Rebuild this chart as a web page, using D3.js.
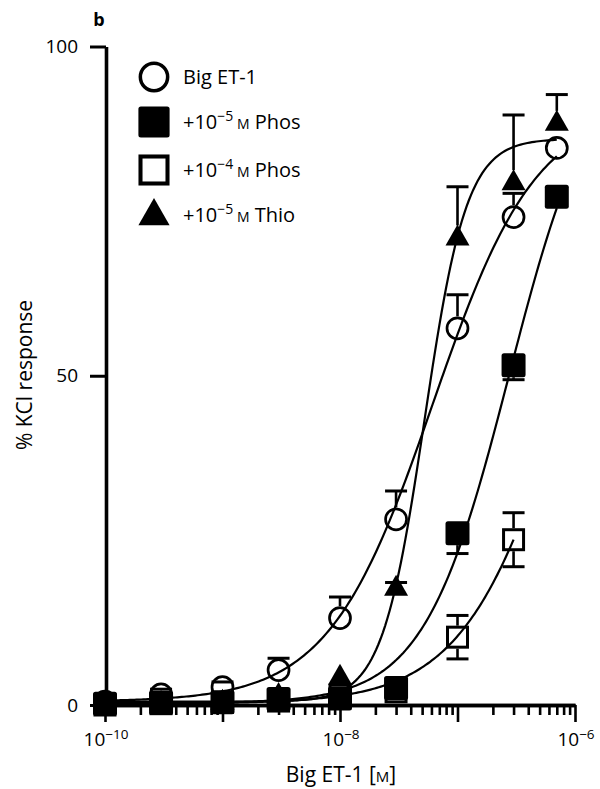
<!DOCTYPE html>
<html><head><meta charset="utf-8">
<script src="https://cdn.jsdelivr.net/npm/d3@7"></script>
<style>
body{margin:0;background:#fff}
svg{display:block}
text{font-family:"Open Sans","Liberation Sans",Arial,sans-serif;fill:#000}
</style>
</head><body>
<svg id="chart" width="600" height="789"></svg>
<script>
// ---- data ----
const doses = [1e-10, 3e-10, 1e-9, 3e-9, 1e-8, 3e-8, 1e-7, 3e-7, 7e-7];
const bigET1 = [0.5, 1.6, 2.7, 5.3, 13.2, 28.2, 57.2, 74.1, 84.6];
const bigET1ErrUp = [0.4, 0.8, 0.8, 1.8, 3.2, 4.3, 5.1, 3.6, 0];
const phos5 = [0.2, 0.3, 0.4, 0.9, 1.0, 2.6, 26.1, 51.6, 77.2];
const phos5ErrDown = [0, 0, 0, 0, 0, 0, 3.1, 2.2, 0];
const phos4 = [0.0, 0.2, 0.4, 0.6, 1.5, 2.0, 10.3, 25.1];
const phos4Err = [0.5, 0.8, 0.5, 0.6, 0, 0, 3.3, 4.1];
const thio = [0.3, 0.3, 0.5, 1.5, 4.3, 17.8, 71.0, 79.4, 88.4];
const thioErrUp = [0, 0, 0, 0, 0, 0.8, 7.7, 10.2, 4.3];

const legendLead = ["", "+10", "+10", "+10"];
const legendExp = ["", "\u22125", "\u22124", "\u22125"];
const legendTail = ["Big ET-1", "Phos", "Phos", "Thio"];

// sigmoid fit parameters (top, bottom, logEC50, Hill slope) per series
const fitTop = [91, 100, 100, 86];
const fitBottom = [0.5, 0.3, 0.2, 0.5];
const fitLogEC50 = [-7.21, -6.56, -6.03, -7.281];
const fitHill = [0.98, 1.2, 0.97, 2.41];

const xMajorTicks = [1e-10, 1e-9, 1e-8, 1e-7, 1e-6];
const xLabelTicks = [1e-10, 1e-8, 1e-6];
const xLabelExp = ["\u221210", "\u22128", "\u22126"];
const yTicks = [0, 50, 100];

// ---- chart ----
const svg = d3.select("#chart");
const x = d3.scaleLog().domain([1e-10, 1e-6]).range([105, 575]);
const y = d3.scaleLinear().domain([0, 100]).range([705, 46.5]);

const series = [
  {vals: bigET1, up: bigET1ErrUp, down: null, shape: "circle"},
  {vals: phos5, up: null, down: phos5ErrDown, shape: "fsquare"},
  {vals: phos4, up: phos4Err, down: phos4Err, shape: "osquare"},
  {vals: thio, up: thioErrUp, down: null, shape: "triangle"}
];

// fitted curves
const line = d3.line().x(d => x(d[0])).y(d => y(d[1]));
series.forEach((s, i) => {
  const lo = Math.log10(doses[0]), hi = Math.log10(doses[s.vals.length - 1]);
  const pts = d3.range(0, 201).map(k => {
    const lx = lo + (hi - lo) * k / 200;
    const v = fitBottom[i] + (fitTop[i] - fitBottom[i]) / (1 + Math.pow(10, (fitLogEC50[i] - lx) * fitHill[i]));
    return [Math.pow(10, lx), v];
  });
  svg.append("path").attr("d", line(pts)).attr("fill", "none").attr("stroke", "#000").attr("stroke-width", 2.2);
});

// axes
const minor = [];
[-10, -9, -8, -7].forEach(e => { for (let k = 2; k <= 9; k++) minor.push(k * Math.pow(10, e)); });

const gxMinor = svg.append("g").attr("transform", "translate(0,705)")
  .call(d3.axisBottom(x).tickValues(minor).tickSize(10).tickSizeOuter(0).tickFormat(""));
const gxMajor = svg.append("g").attr("transform", "translate(0,705)")
  .call(d3.axisBottom(x).tickValues(xMajorTicks).tickSize(17).tickSizeOuter(0).tickFormat(""));
[gxMinor, gxMajor].forEach(g => {
  g.selectAll(".tick line").attr("stroke", "#000").attr("stroke-width", 2.6);
  g.select(".domain").attr("stroke", "#000").attr("stroke-width", 3.6);
});

const gy = svg.append("g").attr("transform", "translate(106,0)")
  .call(d3.axisLeft(y).tickValues(yTicks).tickSize(16).tickSizeOuter(0).tickPadding(12).tickFormat(d3.format("d")));
gy.attr("font-size", 19).attr("font-family", "Open Sans, Liberation Sans, Arial, sans-serif");
gy.select(".domain").attr("stroke", "#000").attr("stroke-width", 3.6);
gy.selectAll(".tick line").attr("stroke", "#000").attr("stroke-width", 3);
gy.selectAll(".tick text").attr("font-size", 19).attr("fill", "#000");

// x tick labels with superscripts
xLabelTicks.forEach((t, i) => {
  const tx = svg.append("text").attr("x", x(t) + 1).attr("y", 746).attr("text-anchor", "middle").attr("font-size", 19);
  tx.append("tspan").text("10");
  tx.append("tspan").attr("font-size", 13.5).attr("dy", -7).text(xLabelExp[i]);
});

// axis titles
svg.append("text").attr("x", 341).attr("y", 782).attr("text-anchor", "middle").attr("font-size", 21)
  .call(t => { t.append("tspan").text("Big ET-1 ["); t.append("tspan").attr("font-size", 15).text("M"); t.append("tspan").text("]"); });
svg.append("text").attr("transform", "translate(32,375) rotate(-90)").attr("text-anchor", "middle").attr("font-size", 21)
  .text("% KCl response");
svg.append("text").attr("x", 99).attr("y", 26).attr("text-anchor", "middle").attr("font-size", 18).attr("font-weight", "bold").text("b");

// markers
function drawMarker(g, shape, cx, cy, s) {
  if (shape === "circle") {
    g.append("circle").attr("cx", cx).attr("cy", cy).attr("r", 10.5 * s).attr("fill", "none").attr("stroke", "#000").attr("stroke-width", 2.7 * s);
  } else if (shape === "fsquare") {
    const w = 24 * s;
    g.append("rect").attr("x", cx - w / 2).attr("y", cy - w / 2).attr("width", w).attr("height", w).attr("rx", 2.5).attr("fill", "#000");
  } else if (shape === "osquare") {
    const w = 20 * s;
    g.append("rect").attr("x", cx - w / 2).attr("y", cy - w / 2).attr("width", w).attr("height", w).attr("fill", "none").attr("stroke", "#000").attr("stroke-width", 3 * s);
  } else {
    const b = 24 * s, h = 21 * s;
    g.append("path").attr("d", `M${cx},${cy - h * 0.62}L${cx + b / 2},${cy + h * 0.38}L${cx - b / 2},${cy + h * 0.38}Z`).attr("fill", "#000");
  }
}
const halfSize = {circle: 12, fsquare: 12, osquare: 11.5, triangle: 12};

// error bars
series.forEach(s => {
  s.vals.forEach((v, j) => {
    const cx = x(doses[j]), cy = y(v);
    [[s.up, -1], [s.down, 1]].forEach(([arr, dir]) => {
      if (!arr || !arr[j]) return;
      const ey = y(v - dir * arr[j]);
      const edge = cy + dir * halfSize[s.shape];
      if ((ey - edge) * dir > 0) {
        svg.append("line").attr("x1", cx).attr("x2", cx).attr("y1", edge).attr("y2", ey).attr("stroke", "#000").attr("stroke-width", 2.6);
      }
      svg.append("line").attr("x1", cx - 11).attr("x2", cx + 11).attr("y1", ey).attr("y2", ey).attr("stroke", "#000").attr("stroke-width", 3);
    });
  });
});

series.forEach(s => {
  const g = svg.append("g");
  s.vals.forEach((v, j) => drawMarker(g, s.shape, x(doses[j]), y(v), 1));
});

// legend
const legY = [77, 122, 170, 215];
series.forEach((s, i) => {
  const g = svg.append("g");
  drawMarker(g, s.shape, 154, legY[i], s.shape === "osquare" ? 1.35 : 1.3);
  const t = svg.append("text").attr("x", 183).attr("y", legY[i] + 7).attr("font-size", 20);
  if (legendLead[i]) {
    t.append("tspan").text(legendLead[i]);
    t.append("tspan").attr("font-size", 14).attr("dy", -8).text(legendExp[i]);
    t.append("tspan").attr("font-size", 14).attr("dy", 8).text(" M");
    t.append("tspan").text(" " + legendTail[i]);
  } else {
    t.text(legendTail[i]);
  }
});
</script>
</body></html>
